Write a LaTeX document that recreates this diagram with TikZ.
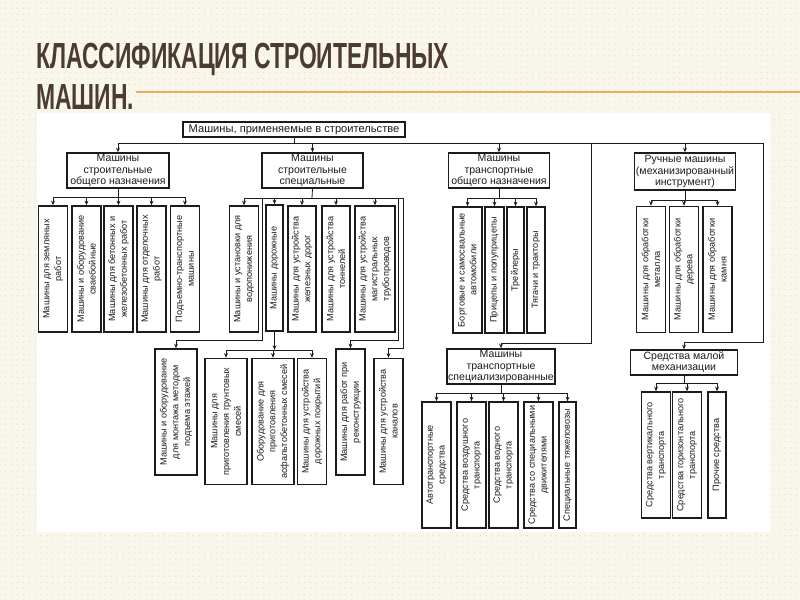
\documentclass[tikz,border=0pt]{standalone}
\usepackage{fontspec}
\setmainfont{Liberation Sans}
\newfontfamily\titlefont[FakeStretch=0.63]{Liberation Sans}
\usepackage{tikz}
\usetikzlibrary{positioning, arrows.meta, patterns.meta}

\definecolor{slidebg}{RGB}{249,246,236}
\definecolor{slidedot}{RGB}{228,222,202}
\definecolor{titlebrown}{RGB}{76,60,48}
\definecolor{titleline}{RGB}{234,172,92}
\definecolor{ink}{RGB}{28,28,28}

\tikzdeclarepattern{
  name=slidedots,
  type=uncolored,
  bounding box={(-1pt,-1pt) and (1pt,1pt)},
  tile size={(5pt,5pt)},
  code={\fill (0pt,0pt) circle (0.55pt);}
}

\begin{document}
\begin{tikzpicture}[
        x=0.03cm, y=-0.03cm,
        head/.style={draw=ink, line width=1.1pt, fill=white, rectangle, align=center, inner sep=1pt, text=ink, font=\fontsize{9}{9.6}\selectfont},
        leaf/.style={draw=ink, line width=1.1pt, fill=white, rectangle, rotate=90, align=center, inner sep=1pt, minimum width=3.78cm, minimum height=0.87cm, text=ink, font=\fontsize{7.8}{10}\selectfont},
        arrow/.style={-{Stealth[length=4pt, width=3.2pt]}, line width=0.7pt, draw=ink},
        line/.style={line width=0.7pt, draw=ink}
    ]
    % Slide
    \useasboundingbox (0,0) rectangle (800,600);
    \fill[slidebg] (0,0) rectangle (800,600);
    \fill[pattern=slidedots, pattern color=slidedot] (0,0) rectangle (800,600);
    \fill[white] (37,113) rectangle (770,532);

    % Title
    \node[anchor=base west, inner sep=0pt, text=titlebrown, font=\titlefont\bfseries\fontsize{31}{31}\selectfont] (title1) at (36,69) {КЛАССИФИКАЦИЯ СТРОИТЕЛЬНЫХ};
    \node[anchor=base west, inner sep=0pt, text=titlebrown, font=\titlefont\bfseries\fontsize{31}{31}\selectfont] (title2) at (36,110) {МАШИН.};
    \draw[titleline, line width=1.6pt] (136,92) -- (800,92);

    % Nodes
    \node[head, minimum width=6.66cm, minimum height=0.45cm, font=\fontsize{9.5}{10}\selectfont] (root) at (294,129.5) {Машины, применяемые в строительстве};

    \node[head, minimum width=3.06cm, minimum height=1.05cm] (gen) at (118,170.5) {Машины\\строительные\\общего назначения};
    \node[head, minimum width=3.03cm, minimum height=1.05cm] (spec) at (312.5,170.5) {Машины\\строительные\\специальные};
    \node[head, minimum width=3.03cm, minimum height=1.05cm] (trg) at (499,170.5) {Машины\\транспортные\\общего назначения};
    \node[head, minimum width=2.88cm, minimum height=1.11cm] (hand) at (685,171.5) {Ручные машины\\(механизированный\\инструмент)};
    \node[head, minimum width=3.24cm, minimum height=1.05cm] (trs) at (501,366.5) {Машины\\транспортные\\специализированные};
    \node[head, minimum width=3.21cm, minimum height=0.75cm] (small) at (684,362.5) {Средства малой\\механизации};

    % general machines
    \node[leaf] (earth) at (53,269) {Машины для земляных\\работ};
    \node[leaf] (piles) at (86.5,269) {Машины и оборудование\\сваебойные};
    \node[leaf] (concrete) at (118.5,269) {Машины для бетонных и\\железобетонных работ};
    \node[leaf] (finish) at (151.5,269) {Машины для отделочных\\работ};
    \node[leaf] (lifting) at (185,269) {Подъемно-транспортные\\машины};

    % special machines
    \node[leaf] (drain) at (244,269) {Машины и установки для\\водопонижения};
    \node[leaf, minimum height=0.51cm] (road) at (274.5,268) {Машины дорожные};
    \node[leaf, minimum height=0.84cm] (rail) at (302,269) {Машины для устройства\\железных дорог};
    \node[leaf, minimum height=0.84cm] (tunnel) at (336,269) {Машины для устройства\\тоннелей};
    \node[leaf, minimum height=1.2cm] (pipe) at (375,269) {Машины для устройства\\магистральных\\трубопроводов};

    \node[leaf, minimum height=1.26cm] (lift) at (176,412) {Машины и оборудование\\для монтажа методом\\подъема этажей};
    \node[leaf, minimum height=1.26cm] (soil) at (226,421.5) {Машины для\\приготовления грунтовых\\смесей};
    \node[leaf, minimum height=1.26cm] (asphalt) at (273,421.5) {Оборудование для\\приготовления\\асфальтобетонных смесей};
    \node[leaf] (paving) at (312,421.5) {Машины для устройства\\дорожных покрытий};
    \node[leaf] (renov) at (350.5,412) {Машины для работ при\\реконструкции};
    \node[leaf] (canal) at (388.5,421.5) {Машины для устройства\\каналов};

    % transport machines
    \node[leaf] (trucks) at (467.5,270) {Бортовые и самосвальные\\автомобили};
    \node[leaf, minimum height=0.57cm] (trailers) at (494.5,270) {Прицепы и полуприцепы};
    \node[leaf, minimum height=0.51cm] (semitr) at (515.5,270) {Трейлеры};
    \node[leaf, minimum height=0.54cm] (tractors) at (536,270) {Тягачи и тракторы};

    \node[leaf] (auto) at (436.5,465) {Автотранспортные\\средства};
    \node[leaf] (air) at (471.5,465) {Средства воздушного\\транспорта};
    \node[leaf] (water) at (503.5,465) {Средства водного\\транспорта};
    \node[leaf] (propel) at (538.5,465) {Средства со специальными\\движителями};
    \node[leaf, minimum height=0.51cm] (heavy) at (567.5,465) {Специальные тяжеловозы};

    % hand machines
    \node[leaf] (metal) at (651,269.5) {Машины для обработки\\металла};
    \node[leaf] (wood) at (684,269.5) {Машины для обработки\\дерева};
    \node[leaf] (stone) at (717.5,269.5) {Машины для обработки\\камня};

    \node[leaf] (vert) at (656,455) {Средства вертикального\\транспорта};
    \node[leaf] (horiz) at (687,455) {Средства горизонтального\\транспорта};
    \node[leaf, minimum height=0.54cm] (other) at (717,455) {Прочие средства};

    % Bus turns
    \coordinate (bus) at (294,143);
    \coordinate (trsturn) at (591,343);
    \coordinate (smallturn) at (763,342);
    \coordinate (genbus) at (118,197);
    \coordinate (specbus) at (312,198);
    \coordinate (liftturn) at (262,340);
    \coordinate (renovturn) at (398,340);
    \coordinate (canalturn) at (403,348);
    \coordinate (roadbus) at (274.5,350);
    \coordinate (trgbus) at (499,198);
    \coordinate (handbus) at (685,200);
    \coordinate (trsbus) at (501,393);
    \coordinate (smallbus) at (684,383);

    % Main arrows
    \draw[line] (root.south) -- (bus);
    \foreach \g in {gen, spec, trg, hand}
        \draw[arrow] (bus) -| (\g.north);
    \draw[arrow] (bus) -| (trsturn) -| (trs.north);
    \draw[arrow] (bus) -| (smallturn) -| (small.north);

    % Group arrows
    \draw[line] (gen.south) -- (genbus);
    \foreach \n in {earth, piles, concrete, finish, lifting}
        \draw[arrow] (genbus) -| (\n.east);

    \draw[line] (spec.south) -- (specbus);
    \foreach \n in {drain, road, rail, tunnel, pipe}
        \draw[arrow] (specbus) -| (\n.east);
    \draw[arrow] (specbus) -| (liftturn) -| (lift.east);
    \draw[arrow] (specbus) -| (renovturn) -| (renov.east);
    \draw[arrow] (specbus) -| (canalturn) -| (canal.east);

    \draw[arrow] (road.west) -- (roadbus);
    \foreach \n in {soil, asphalt, paving}
        \draw[arrow] (roadbus) -| (\n.east);

    \draw[line] (trg.south) -- (trgbus);
    \foreach \n in {trucks, trailers, semitr, tractors}
        \draw[arrow] (trgbus) -| (\n.east);

    \draw[line] (hand.south) -- (handbus);
    \foreach \n in {metal, wood, stone}
        \draw[arrow] (handbus) -| (\n.east);

    \draw[line] (trs.south) -- (trsbus);
    \foreach \n in {auto, air, water, propel, heavy}
        \draw[arrow] (trsbus) -| (\n.east);

    \draw[line] (small.south) -- (smallbus);
    \foreach \n in {vert, horiz, other}
        \draw[arrow] (smallbus) -| (\n.east);
\end{tikzpicture}
\end{document}
